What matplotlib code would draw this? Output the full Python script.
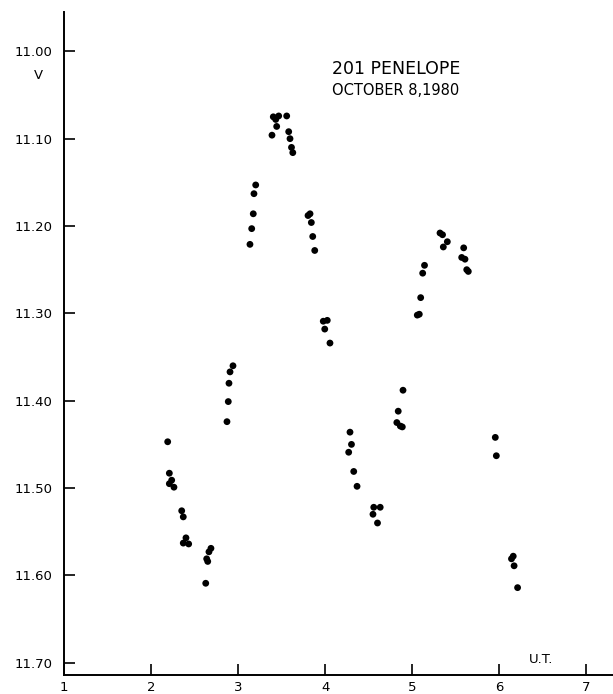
import numpy as np
import matplotlib.pyplot as plt

# universal time (hours) and V magnitude
ut = [
    2.191, 2.210, 2.237, 2.210, 2.263, 2.352, 2.370, 2.401, 2.370, 2.432,
    2.688, 2.665, 2.639, 2.651, 2.628,
    2.941, 2.907, 2.895, 2.887, 2.872,
    3.202, 3.182, 3.174, 3.156, 3.136,
    3.404, 3.432, 3.466, 3.558, 3.443, 3.389, 3.581, 3.596, 3.613, 3.628,
    3.803, 3.826, 3.841, 3.857, 3.880,
    3.978, 4.024, 3.995, 4.055,
    4.285, 4.302, 4.270, 4.328, 4.366,
    4.558, 4.632, 4.549, 4.601,
    4.894, 4.839, 4.823, 4.863, 4.886,
    5.141, 5.120, 5.097, 5.058, 5.081,
    5.319, 5.348, 5.403, 5.357,
    5.591, 5.568, 5.606, 5.626, 5.644,
    5.954, 5.966,
    6.140, 6.160, 6.170, 6.210,
]
vmag = [
    11.447, 11.483, 11.491, 11.495, 11.499, 11.526, 11.533, 11.557, 11.563, 11.564,
    11.569, 11.573, 11.581, 11.584, 11.609,
    11.360, 11.367, 11.380, 11.401, 11.424,
    11.153, 11.163, 11.186, 11.203, 11.221,
    11.075, 11.078, 11.074, 11.074, 11.086, 11.096, 11.092, 11.100, 11.110, 11.116,
    11.188, 11.186, 11.196, 11.212, 11.228,
    11.309, 11.308, 11.318, 11.334,
    11.436, 11.450, 11.459, 11.481, 11.498,
    11.522, 11.522, 11.530, 11.540,
    11.388, 11.412, 11.425, 11.429, 11.430,
    11.245, 11.254, 11.282, 11.302, 11.301,
    11.208, 11.210, 11.218, 11.224,
    11.225, 11.236, 11.238, 11.250, 11.252,
    11.442, 11.463,
    11.581, 11.578, 11.589, 11.614,
]

x_ticks = [1, 2, 3, 4, 5, 6, 7]
y_ticks = [11.00, 11.10, 11.20, 11.30, 11.40, 11.50, 11.60, 11.70]

fig = plt.figure(figsize=(6.13, 6.94), dpi=100)
ax = fig.add_axes([0.1044, 0.0274, 0.8956, 0.9553])

ax.scatter(ut, vmag, s=24, color="black", edgecolors="none")

ax.set_xlim(1, 7.306)
ax.set_ylim(11.714, 10.955)

ax.set_xticks(x_ticks)
ax.set_xticklabels([str(t) for t in x_ticks])
ax.set_yticks(y_ticks)
ax.set_yticklabels([f"{t:.2f}" for t in y_ticks])

ax.tick_params(axis="both", direction="in", length=8, width=1.2, labelsize=9.5)
ax.tick_params(axis="x", pad=4)
ax.tick_params(axis="y", pad=8)

for side in ["top", "right"]:
    ax.spines[side].set_visible(False)
for side in ["left", "bottom"]:
    ax.spines[side].set_linewidth(1.4)

fig.text(0.646, 0.9006, "201 PENELOPE", ha="center", va="center", fontsize=12.5)
fig.text(0.646, 0.8693, "OCTOBER 8,1980", ha="center", va="center", fontsize=10.5)
fig.text(0.062, 0.8905, "V", ha="center", va="center", fontsize=9.5)
fig.text(0.8825, 0.049, "U.T.", ha="center", va="center", fontsize=9.5)

plt.savefig("out.png", dpi=100)
plt.close()
